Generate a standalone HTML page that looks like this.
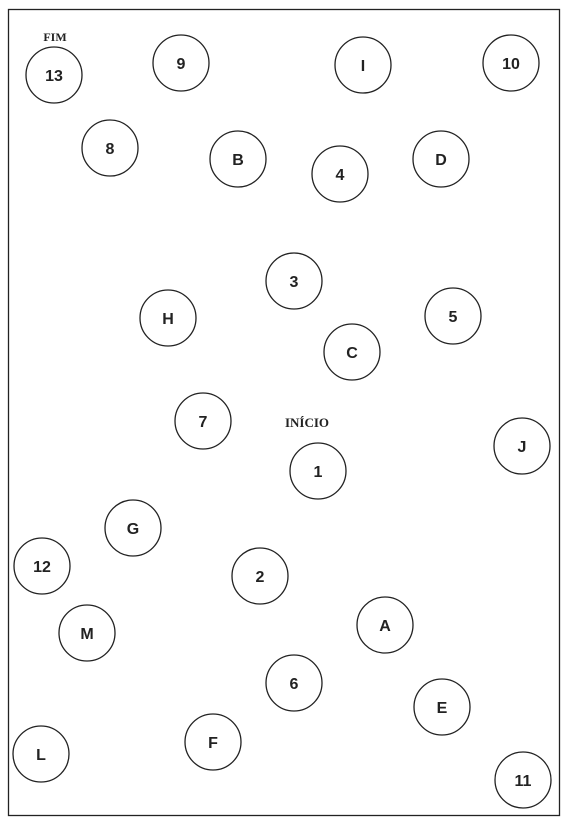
<!DOCTYPE html>
<html><head><meta charset="utf-8"><style>
html,body{margin:0;padding:0;background:#fff;width:567px;height:823px;overflow:hidden}
svg{display:block}
</style></head><body>
<svg id="s" width="567" height="823">
<rect x="8.5" y="9.5" width="551" height="806" fill="none" stroke="#222" stroke-width="1.3"/>
<text x="55" y="41" style="font-family:'Liberation Serif',serif;font-weight:bold;font-size:12px" text-anchor="middle" fill="#222">FIM</text>
<text x="307" y="427" style="font-family:'Liberation Serif',serif;font-weight:bold;font-size:13px" text-anchor="middle" fill="#222">INÍCIO</text>
</svg>
<script>
const labels=["13","9","I","10","8","B","4","D","3","H","5","C","7","1","J","G","12","2","A","M","6","E","F","L","11"];
const cx=[54,181,363,511,110,238,340,441,294,168,453,352,203,318,522,133,42,260,385,87,294,442,213,41,523];
const cy=[75,63,65,63,148,159,174,159,281,318,316,352,421,471,446,528,566,576,625,633,683,707,742,754,780];
const s=document.getElementById('s');
const NS='http://www.w3.org/2000/svg';
labels.forEach((t,i)=>{
 const g=document.createElementNS(NS,'g');
 
 
 const c=document.createElementNS(NS,'circle');
 c.setAttribute('cx',cx[i]);c.setAttribute('cy',cy[i]);c.setAttribute('r',28);
 c.setAttribute('fill','none');c.setAttribute('stroke','#222');c.setAttribute('stroke-width','1.3');
 
 
 const tx=document.createElementNS(NS,'text');
 tx.setAttribute('x',cx[i]);tx.setAttribute('y',cy[i]+6);
 tx.setAttribute('text-anchor','middle');
 tx.setAttribute('style',"font-family:'Liberation Sans',sans-serif;font-size:16px;font-weight:bold");
 tx.setAttribute('fill','#222');
 tx.textContent=t;
 
 
 g.appendChild(c);g.appendChild(tx);s.appendChild(g);
});
</script>
</body></html>
